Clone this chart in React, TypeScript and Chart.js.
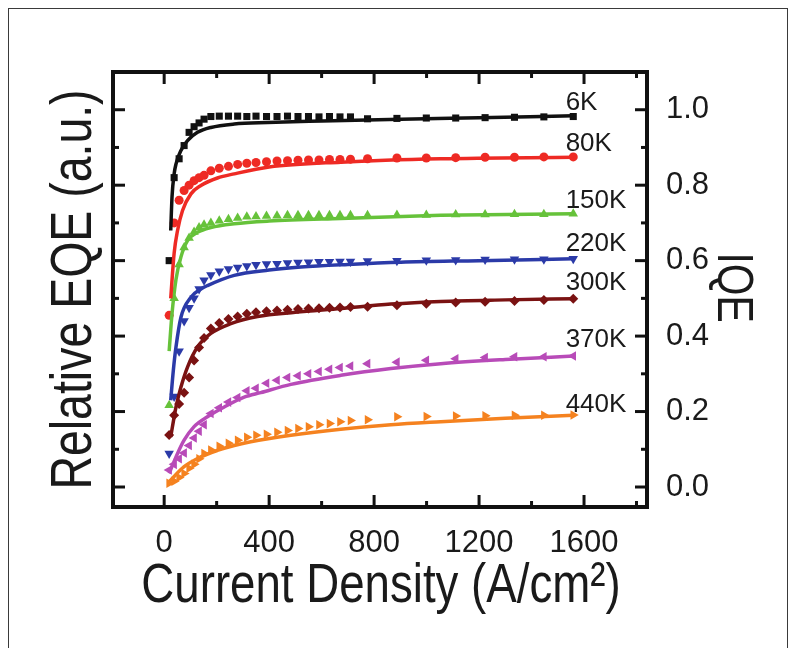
import React, { useEffect, useRef } from "react";
import { Chart, registerables } from "chart.js";
Chart.register(...registerables);

// ---------- data ----------
const X_MEAS = [19, 38, 57, 76, 95, 114, 133, 152, 178, 210, 245, 280, 315, 350, 390, 430, 470, 510, 550, 590, 630, 670, 710, 775, 887, 999, 1111, 1223, 1335, 1447, 1559];

const Y_6K = [0.60, 0.82, 0.87, 0.905, 0.94, 0.955, 0.965, 0.975, 0.982, 0.983, 0.983, 0.983, 0.982, 0.983, 0.982, 0.982, 0.983, 0.982, 0.982, 0.981, 0.982, 0.981, 0.981, 0.976, 0.977, 0.978, 0.978, 0.979, 0.980, 0.981, 0.982];
const Y_80K = [0.455, 0.70, 0.76, 0.786, 0.80, 0.812, 0.82, 0.826, 0.838, 0.845, 0.85, 0.855, 0.858, 0.86, 0.862, 0.864, 0.865, 0.866, 0.867, 0.867, 0.868, 0.868, 0.869, 0.87, 0.872, 0.872, 0.873, 0.874, 0.874, 0.875, 0.875];
const Y_150K = [0.217, 0.50, 0.59, 0.635, 0.66, 0.676, 0.688, 0.695, 0.70, 0.706, 0.71, 0.713, 0.716, 0.717, 0.718, 0.719, 0.72, 0.72, 0.72, 0.72, 0.72, 0.72, 0.72, 0.72, 0.721, 0.721, 0.722, 0.722, 0.723, 0.723, 0.724];
const Y_220K = [0.089, 0.24, 0.36, 0.44, 0.475, 0.50, 0.525, 0.548, 0.562, 0.572, 0.578, 0.582, 0.586, 0.589, 0.591, 0.592, 0.594, 0.595, 0.596, 0.597, 0.597, 0.598, 0.598, 0.599, 0.60, 0.601, 0.602, 0.603, 0.604, 0.604, 0.605];
const Y_300K = [0.138, 0.19, 0.22, 0.25, 0.29, 0.335, 0.37, 0.395, 0.42, 0.435, 0.445, 0.452, 0.459, 0.463, 0.466, 0.468, 0.47, 0.472, 0.473, 0.474, 0.475, 0.476, 0.477, 0.478, 0.482, 0.486, 0.489, 0.491, 0.493, 0.496, 0.499];
const Y_370K = [0.045, 0.06, 0.075, 0.09, 0.11, 0.13, 0.148, 0.165, 0.195, 0.21, 0.225, 0.237, 0.255, 0.262, 0.275, 0.283, 0.29, 0.295, 0.30, 0.306, 0.312, 0.317, 0.321, 0.327, 0.331, 0.336, 0.34, 0.343, 0.345, 0.345, 0.347];
const Y_440K = [0.01, 0.015, 0.025, 0.036, 0.05, 0.06, 0.075, 0.089, 0.098, 0.108, 0.116, 0.124, 0.132, 0.137, 0.14, 0.145, 0.15, 0.155, 0.16, 0.165, 0.168, 0.173, 0.176, 0.178, 0.186, 0.187, 0.188, 0.189, 0.19, 0.19, 0.191];

const FIT_6K_X = [25, 30, 38, 45, 64, 89, 127, 178, 267, 394, 600, 902, 1200, 1560];
const FIT_6K_Y = [0.68, 0.77, 0.83, 0.856, 0.892, 0.918, 0.94, 0.953, 0.962, 0.966, 0.970, 0.975, 0.979, 0.984];
const FIT_80K_X = [25, 38, 51, 70, 102, 140, 203, 267, 400, 673, 1054, 1560];
const FIT_80K_Y = [0.50, 0.62, 0.68, 0.733, 0.777, 0.799, 0.819, 0.83, 0.848, 0.861, 0.870, 0.874];
const FIT_150K_X = [19, 30, 45, 64, 89, 127, 178, 267, 400, 673, 1054, 1560];
const FIT_150K_Y = [0.36, 0.46, 0.55, 0.61, 0.653, 0.675, 0.688, 0.698, 0.705, 0.712, 0.72, 0.724];
const FIT_220K_X = [25, 35, 45, 64, 102, 140, 165, 267, 400, 521, 700, 902, 1200, 1560];
const FIT_220K_Y = [0.23, 0.31, 0.371, 0.45, 0.503, 0.525, 0.534, 0.561, 0.575, 0.583, 0.59, 0.596, 0.60, 0.605];
const FIT_300K_X = [25, 45, 64, 89, 127, 178, 254, 356, 500, 673, 864, 1054, 1300, 1560];
const FIT_300K_Y = [0.133, 0.212, 0.265, 0.318, 0.371, 0.407, 0.433, 0.452, 0.463, 0.473, 0.485, 0.492, 0.496, 0.499];
const FIT_370K_X = [19, 51, 76, 114, 165, 229, 305, 368, 483, 673, 864, 1054, 1300, 1560];
const FIT_370K_Y = [0.036, 0.089, 0.124, 0.16, 0.186, 0.212, 0.238, 0.25, 0.272, 0.296, 0.314, 0.327, 0.338, 0.347];
const FIT_440K_X = [19, 76, 140, 203, 267, 330, 483, 673, 864, 1054, 1300, 1560];
const FIT_440K_Y = [0.014, 0.054, 0.08, 0.097, 0.11, 0.12, 0.137, 0.153, 0.165, 0.173, 0.182, 0.19];

const TEMPS = ["6K", "80K", "150K", "220K", "300K", "370K", "440K"];
const LABEL_X = 1530;
const LABEL_Y = [1.019, 0.91, 0.759, 0.645, 0.54, 0.389, 0.217];

const X_TICKS = [0, 400, 800, 1200, 1600];
const X_MINOR = [200, 600, 1000, 1400, 1800];
const IQE_TICKS = [0, 0.2, 0.4, 0.6, 0.8, 1.0];
const IQE_MINOR = [0.1, 0.3, 0.5, 0.7, 0.9];

const X_TITLE = "Current Density (A/cm²)";
const Y_TITLE = "Relative EQE (a.u.)";
const Y2_TITLE = "IQE";

// ---------- styles ----------
const COLORS = ["#111111", "#ee2a24", "#66c23a", "#2b3aa8", "#7a1212", "#b84bb8", "#f5821f"];
const SHAPES = ["rect", "circle", "triangle", "triangle", "rectRot", "triangle", "triangle"];
const ROTS = [0, 0, 0, 180, 0, 270, 90];
const RADII = [5, 4.5, 5.5, 5.5, 5, 5.5, 5.5];

const MEAS = [Y_6K, Y_80K, Y_150K, Y_220K, Y_300K, Y_370K, Y_440K];
const FITX = [FIT_6K_X, FIT_80K_X, FIT_150K_X, FIT_220K_X, FIT_300K_X, FIT_370K_X, FIT_440K_X];
const FITY = [FIT_6K_Y, FIT_80K_Y, FIT_150K_Y, FIT_220K_Y, FIT_300K_Y, FIT_370K_Y, FIT_440K_Y];

const SANS = '"Liberation Sans", Arial, Helvetica, sans-serif';
const TEXT = "#1a1a1a";

const framePlugin = {
  id: "frameTicks",
  afterDraw(chart: any) {
    const { ctx, chartArea: a, scales } = chart;
    const xs = scales.x;
    const ys = scales.y;
    ctx.save();
    ctx.strokeStyle = "#111";
    ctx.lineCap = "butt";
    ctx.lineWidth = 3;
    const seg = (x1: number, y1: number, x2: number, y2: number) => {
      ctx.beginPath();
      ctx.moveTo(x1, y1);
      ctx.lineTo(x2, y2);
      ctx.stroke();
    };
    X_TICKS.forEach((v) => {
      const p = xs.getPixelForValue(v);
      seg(p, a.bottom, p, a.bottom - 12);
      seg(p, a.top, p, a.top + 12);
    });
    X_MINOR.forEach((v) => {
      const p = xs.getPixelForValue(v);
      if (p <= a.left || p >= a.right) return;
      seg(p, a.bottom, p, a.bottom - 6);
      seg(p, a.top, p, a.top + 6);
    });
    IQE_TICKS.forEach((v) => {
      const p = ys.getPixelForValue(v);
      seg(a.left, p, a.left + 12, p);
      seg(a.right, p, a.right - 12, p);
    });
    IQE_MINOR.forEach((v) => {
      const p = ys.getPixelForValue(v);
      seg(a.left, p, a.left + 6, p);
      seg(a.right, p, a.right - 6, p);
    });
    ctx.lineWidth = 4;
    ctx.strokeRect(a.left, a.top, a.right - a.left, a.bottom - a.top);

    // curve labels
    ctx.font = "26px " + SANS;
    ctx.fillStyle = TEXT;
    ctx.textAlign = "left";
    ctx.textBaseline = "middle";
    TEMPS.forEach((t, i) => {
      ctx.fillText(t, xs.getPixelForValue(LABEL_X), ys.getPixelForValue(LABEL_Y[i]));
    });

    // axis titles (condensed, like the original narrow face)
    const title = (text: string, x: number, y: number, rot: number, size: number, sx: number) => {
      ctx.save();
      ctx.translate(x, y);
      ctx.rotate(rot);
      ctx.scale(sx, 1);
      ctx.font = size + "px " + SANS;
      ctx.fillStyle = TEXT;
      ctx.textAlign = "center";
      ctx.textBaseline = "middle";
      ctx.fillText(text, 0, 0);
      ctx.restore();
    };
    const cx = (a.left + a.right) / 2;
    const cy = (a.top + a.bottom) / 2;
    title(X_TITLE, cx + 1, a.bottom + 80, 0, 56, 0.815);
    title(Y_TITLE, a.left - 38, cy, -Math.PI / 2, 57, 0.815);
    title(Y2_TITLE, a.right + 85, cy - 2, Math.PI / 2, 50, 0.815);
    ctx.restore();
  },
};

export default function App() {
  const ref = useRef<HTMLCanvasElement>(null);

  useEffect(() => {
    const fitSets = TEMPS.map((t, i) => ({
      label: t + " fit",
      data: FITX[i].map((x, j) => ({ x, y: FITY[i][j] })),
      showLine: true,
      borderColor: COLORS[i],
      backgroundColor: COLORS[i],
      borderWidth: 3.5,
      pointRadius: 0,
      cubicInterpolationMode: "monotone",
      order: 0,
      yAxisID: "y",
    }));
    const measSets = TEMPS.map((t, i) => ({
      label: t,
      data: X_MEAS.map((x, j) => ({ x, y: MEAS[i][j] })),
      showLine: false,
      borderColor: COLORS[i],
      backgroundColor: COLORS[i],
      pointStyle: SHAPES[i],
      pointRotation: ROTS[i],
      pointRadius: RADII[i],
      pointBorderWidth: 0,
      order: 1,
      yAxisID: "y",
    }));

    const chart = new Chart(ref.current!, {
      type: "scatter",
      data: { datasets: [...fitSets, ...measSets] as any },
      options: {
        responsive: false,
        animation: false,
        events: [],
        layout: { padding: { top: 72, left: 0, right: 0, bottom: 0 } },
        plugins: { legend: { display: false }, tooltip: { enabled: false } },
        scales: {
          x: {
            type: "linear",
            position: "bottom",
            min: -195,
            max: 1840,
            afterBuildTicks: (s: any) => {
              s.ticks = X_TICKS.map((v) => ({ value: v }));
            },
            afterFit: (s: any) => {
              s.height = 141;
            },
            grid: { display: false },
            border: { display: false },
            ticks: {
              color: TEXT,
              font: { family: SANS, size: 31 },
              padding: 10,
              maxRotation: 0,
              callback: (v: any) => String(v),
            },
            title: { display: false },
          },
          y: {
            type: "linear",
            position: "left",
            min: -0.053,
            max: 1.1,
            afterBuildTicks: (s: any) => {
              s.ticks = IQE_TICKS.map((v) => ({ value: v }));
            },
            afterFit: (s: any) => {
              s.width = 113;
            },
            grid: { display: false },
            border: { display: false },
            ticks: { display: false },
            title: { display: false },
          },
          y2: {
            type: "linear",
            position: "right",
            min: -0.053,
            max: 1.1,
            afterBuildTicks: (s: any) => {
              s.ticks = IQE_TICKS.map((v) => ({ value: v }));
            },
            afterFit: (s: any) => {
              s.width = 146;
            },
            grid: { display: false },
            border: { display: false },
            ticks: {
              color: TEXT,
              font: { family: SANS, size: 31 },
              padding: 11,
              callback: (v: any) => Number(v).toFixed(1),
            },
            title: { display: false },
          },
        },
      },
      plugins: [framePlugin],
    } as any);
    return () => chart.destroy();
  }, []);

  return (
    <div style={{ position: "fixed", left: 0, top: 0, width: 793, height: 648, overflow: "hidden", background: "#ffffff" }}>
      <div
        style={{
          position: "absolute",
          left: 8,
          top: 8,
          width: 780,
          height: 720,
          boxSizing: "border-box",
          border: "1.5px solid #3a3a3a",
        }}
      />
      <canvas ref={ref} width={793} height={648} style={{ position: "absolute", left: 0, top: 0, width: 793, height: 648 }} />
    </div>
  );
}
